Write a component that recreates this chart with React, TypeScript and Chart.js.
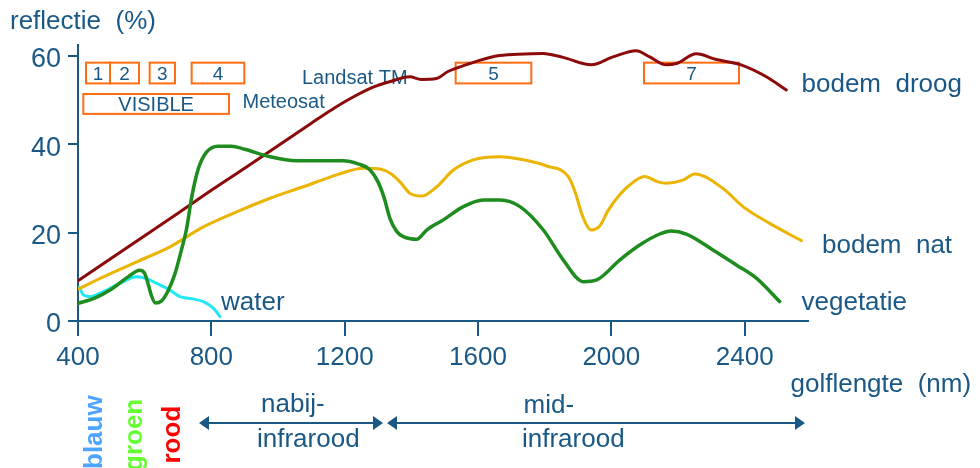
import React, { useEffect, useRef } from 'react';
import { Chart, registerables } from 'chart.js';

Chart.register(...registerables);

// ---- axes ----
const xTicks = [400, 800, 1200, 1600, 2000, 2400];
const yTicks = [0, 20, 40, 60];

// ---- series (wavelength nm, reflectance %) ----
const vegNm = [400, 450, 500, 550, 585, 600, 610, 620, 632, 650, 670, 690, 710, 726, 741, 761, 785, 820, 860, 900, 976, 1056, 1195, 1240, 1276, 1300, 1318, 1336, 1356, 1376, 1416, 1446, 1496, 1556, 1616, 1666, 1726, 1796, 1856, 1916, 1956, 2025, 2085, 2145, 2180, 2225, 2305, 2375, 2435, 2505];
const vegPct = [4.0, 5.2, 7.2, 10.0, 11.5, 10.8, 8.5, 5.8, 4.1, 4.5, 6.8, 10.5, 16.0, 21.0, 28.0, 34.5, 38.2, 39.6, 39.6, 38.9, 37.2, 36.3, 36.3, 35.6, 34.2, 31.5, 28.0, 23.2, 20.3, 19.1, 18.5, 20.6, 22.9, 25.9, 27.4, 27.4, 25.9, 20.6, 13.8, 8.9, 9.3, 13.8, 17.2, 19.7, 20.4, 19.7, 16.1, 12.7, 9.7, 4.4];

const droogNm = [400, 500, 600, 700, 800, 900, 1000, 1100, 1160, 1220, 1280, 1340, 1395, 1430, 1475, 1510, 1575, 1655, 1720, 1795, 1855, 1940, 2005, 2075, 2115, 2165, 2195, 2255, 2315, 2385, 2465, 2525];
const droogPct = [9.1, 14.2, 19.3, 24.4, 29.6, 34.6, 39.7, 44.8, 47.8, 50.5, 52.8, 54.3, 55.3, 54.7, 54.9, 56.5, 58.3, 60.0, 60.4, 60.6, 59.7, 58.0, 59.8, 61.2, 59.8, 58.0, 58.3, 60.5, 59.2, 58.1, 55.3, 52.3];

const natNm = [400, 476, 576, 676, 776, 876, 976, 1076, 1176, 1256, 1306, 1340, 1366, 1396, 1431, 1476, 1526, 1586, 1666, 1736, 1806, 1871, 1890, 1915, 1940, 1965, 1990, 2025, 2055, 2100, 2140, 2165, 2215, 2250, 2335, 2395, 2475, 2570];
const natPct = [7.2, 10.0, 13.4, 16.8, 21.3, 24.7, 27.8, 30.4, 33.1, 34.6, 34.4, 33.3, 31.5, 28.9, 28.3, 30.4, 34.2, 36.5, 37.2, 36.5, 35.1, 32.7, 29.5, 23.5, 20.6, 21.5, 25.0, 28.6, 30.8, 32.7, 31.5, 31.2, 31.9, 33.3, 30.0, 25.9, 22.1, 18.2];

const waterNm = [403, 408, 416, 436, 466, 526, 576, 606, 636, 676, 706, 736, 776, 806, 826];
const waterPct = [7.6, 7.0, 5.9, 5.5, 6.3, 8.5, 10.0, 9.6, 8.5, 7.0, 5.5, 5.1, 4.4, 2.9, 1.0];

// ---- Landsat TM bands / visible range (nm) ----
const bandLabels = ['1', '2', '3', '4', '5', '7'];
const bandFromNm = [424, 496, 615, 741, 1533, 2098];
const bandToNm = [496, 583, 691, 899, 1760, 2383];
const bandPctRange = [53.8, 58.5];
const visibleNmRange = [416, 853];
const visiblePctRange = [46.9, 51.4];

const FONT = '"Liberation Sans", Arial, Helvetica, sans-serif';
const TEXT = '#1a5886';
const ORANGE = '#ff6d12';

const toPts = (xs: number[], ys: number[]) => xs.map((v, i) => ({ x: v, y: ys[i] }));

function arrow(ctx: CanvasRenderingContext2D, x1: number, x2: number, y: number) {
  const hl = 10, hh = 7;
  ctx.beginPath();
  ctx.moveTo(x1 + hl - 1, y);
  ctx.lineTo(x2 - hl + 1, y);
  ctx.stroke();
  ctx.beginPath();
  ctx.moveTo(x1, y);
  ctx.lineTo(x1 + hl, y - hh);
  ctx.lineTo(x1 + hl, y + hh);
  ctx.closePath();
  ctx.fill();
  ctx.beginPath();
  ctx.moveTo(x2, y);
  ctx.lineTo(x2 - hl, y - hh);
  ctx.lineTo(x2 - hl, y + hh);
  ctx.closePath();
  ctx.fill();
}

const annotations = {
  id: 'annotations',
  beforeDatasetsDraw(chart: any) {
    const { ctx } = chart;
    const x = chart.scales.x, y = chart.scales.y;
    ctx.save();
    ctx.strokeStyle = ORANGE;
    ctx.lineWidth = 2;
    ctx.fillStyle = TEXT;
    ctx.textAlign = 'center';
    ctx.textBaseline = 'alphabetic';
    ctx.font = `19px ${FONT}`;
    const yTop = y.getPixelForValue(bandPctRange[1]);
    const yBot = y.getPixelForValue(bandPctRange[0]);
    bandLabels.forEach((lab, i) => {
      const x1 = x.getPixelForValue(bandFromNm[i]);
      const x2 = x.getPixelForValue(bandToNm[i]);
      ctx.strokeRect(x1, yTop, x2 - x1, yBot - yTop);
      ctx.fillText(lab, (x1 + x2) / 2, yBot - 3);
    });
    const vx1 = x.getPixelForValue(visibleNmRange[0]);
    const vx2 = x.getPixelForValue(visibleNmRange[1]);
    const vy1 = y.getPixelForValue(visiblePctRange[1]);
    const vy2 = y.getPixelForValue(visiblePctRange[0]);
    ctx.strokeRect(vx1, vy1, vx2 - vx1, vy2 - vy1);
    ctx.font = `20px ${FONT}`;
    ctx.fillText('VISIBLE', (vx1 + vx2) / 2, vy2 - 3);
    ctx.textAlign = 'left';
    ctx.fillText('Meteosat', 242.5, 108.3);
    ctx.fillText('Landsat TM', 302, 84);
    ctx.restore();
  },
  afterDraw(chart: any) {
    const { ctx } = chart;
    ctx.save();
    ctx.fillStyle = TEXT;
    ctx.strokeStyle = TEXT;
    ctx.textAlign = 'left';
    ctx.textBaseline = 'alphabetic';
    ctx.font = `26px ${FONT}`;
    ctx.fillText('reflectie  (%)', 10, 29);
    ctx.fillText('water', 221, 310);
    ctx.fillText('bodem  droog', 801.5, 92);
    ctx.fillText('bodem  nat', 822, 253);
    ctx.fillText('vegetatie', 801.5, 310);
    ctx.fillText('golflengte  (nm)', 790.5, 391.5);
    ctx.fillText('nabij-', 261, 412);
    ctx.fillText('infrarood', 257, 446.5);
    ctx.fillText('mid-', 523.5, 413);
    ctx.fillText('infrarood', 522, 446.5);

    ctx.lineWidth = 2;
    arrow(ctx, 199, 383, 423);
    arrow(ctx, 387, 805, 423);

    const words: [string, string, number, number][] = [
      ['blauw', '#4da3ff', 102, 469],
      ['groen', '#66ff33', 142, 471],
      ['rood', '#ff0000', 180, 463.5],
    ];
    ctx.font = `bold 26px ${FONT}`;
    words.forEach(([w, c, bx, by]) => {
      ctx.save();
      ctx.translate(bx, by);
      ctx.rotate(-Math.PI / 2);
      ctx.fillStyle = c;
      ctx.textAlign = 'left';
      ctx.textBaseline = 'alphabetic';
      ctx.fillText(w, 0, 0);
      ctx.restore();
    });
    ctx.restore();
  },
};

export default function App() {
  const ref = useRef<HTMLCanvasElement | null>(null);
  useEffect(() => {
    document.body.style.margin = '0';
    if (!ref.current) return;
    const chart = new Chart(ref.current, {
      type: 'line',
      data: {
        datasets: [
          { label: 'vegetatie', data: toPts(vegNm, vegPct), borderColor: '#1e8c1e', borderWidth: 3.5 },
          { label: 'bodem droog', data: toPts(droogNm, droogPct), borderColor: '#8b0a0a', borderWidth: 3 },
          { label: 'bodem nat', data: toPts(natNm, natPct), borderColor: '#ebb400', borderWidth: 3 },
          { label: 'water', data: toPts(waterNm, waterPct), borderColor: '#22e8f5', borderWidth: 3 },
        ],
      },
      options: {
        responsive: false,
        maintainAspectRatio: false,
        animation: false,
        layout: { padding: { left: 0, top: 45, right: 172, bottom: 0 } },
        elements: {
          point: { radius: 0, hoverRadius: 0 },
          line: { cubicInterpolationMode: 'monotone', fill: false, borderCapStyle: 'round', borderJoinStyle: 'round' },
        },
        plugins: { legend: { display: false }, tooltip: { enabled: false }, title: { display: false } },
        scales: {
          x: {
            type: 'linear',
            min: 400,
            max: 2590,
            afterBuildTicks: (s: any) => { s.ticks = xTicks.map((v) => ({ value: v })); },
            afterFit: (s: any) => { s.height = 147; },
            grid: { drawOnChartArea: false, drawTicks: true, tickLength: 15, color: TEXT, lineWidth: 2 },
            border: { display: true, color: TEXT, width: 2 },
            ticks: { color: TEXT, font: { family: FONT, size: 26 }, padding: 6, maxRotation: 0, autoSkip: false, callback: (v: any) => String(v) },
          },
          y: {
            type: 'linear',
            min: 0,
            max: 62.5,
            afterBuildTicks: (s: any) => { s.ticks = yTicks.map((v) => ({ value: v })); },
            afterFit: (s: any) => { s.width = 78; },
            grid: { drawOnChartArea: false, drawTicks: true, tickLength: 10, color: TEXT, lineWidth: 2 },
            border: { display: true, color: TEXT, width: 2 },
            ticks: { color: TEXT, font: { family: FONT, size: 27 }, padding: 7, labelOffset: 4, callback: (v: any) => String(v) },
          },
        },
      } as any,
      plugins: [annotations],
    });
    return () => chart.destroy();
  }, []);
  return (
    <div style={{ width: 980, height: 468, background: '#fff' }}>
      <canvas ref={ref} width={980} height={468} style={{ display: 'block', width: 980, height: 468 }} />
    </div>
  );
}
